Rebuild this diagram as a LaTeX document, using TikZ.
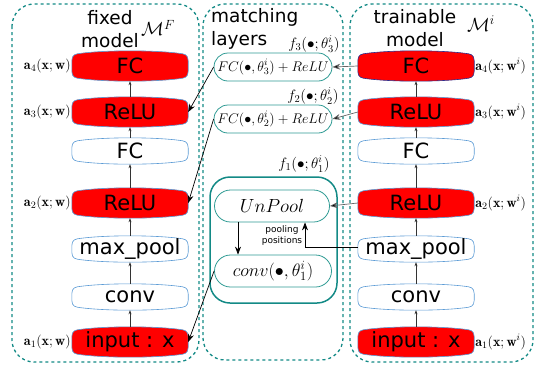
\RequirePackage{fix-cm}
\documentclass[tikz,border=0pt]{standalone}
\usepackage{fontspec}
\setsansfont{DejaVu Sans}
\usetikzlibrary{arrows.meta,backgrounds}
\definecolor{boxblue}{HTML}{5B9BD5}
\definecolor{navyb}{HTML}{2B2F8F}
\definecolor{tealc}{HTML}{138A86}
\definecolor{tealell}{HTML}{2E9A93}
\newcommand{\brl}[3]{\draw[line width=0.6pt, draw=#3, fill=#2]
  ([yshift=-10pt]#1.north west)
  .. controls ([yshift=-3.5pt]#1.north west) and ([xshift=4pt,yshift=-3.1pt]#1.north west) .. ([xshift=9pt,yshift=-2.5pt]#1.north west)
  .. controls ([xshift=35pt,yshift=0.8pt]#1.north west) and ([xshift=-35pt,yshift=0.8pt]#1.north east) .. ([xshift=-9pt,yshift=-2.5pt]#1.north east)
  .. controls ([xshift=-4pt,yshift=-3.1pt]#1.north east) and ([yshift=-3.5pt]#1.north east) .. ([yshift=-10pt]#1.north east)
  -- ([yshift=10pt]#1.south east)
  .. controls ([yshift=3.5pt]#1.south east) and ([xshift=-4pt,yshift=3.1pt]#1.south east) .. ([xshift=-9pt,yshift=2.5pt]#1.south east)
  .. controls ([xshift=-35pt,yshift=-0.8pt]#1.south east) and ([xshift=35pt,yshift=-0.8pt]#1.south west) .. ([xshift=9pt,yshift=2.5pt]#1.south west)
  .. controls ([xshift=4pt,yshift=3.1pt]#1.south west) and ([yshift=3.5pt]#1.south west) .. ([yshift=10pt]#1.south west)
  -- cycle;}
\begin{document}
\begin{tikzpicture}[x=1pt,y=-1pt,
  layer/.style={minimum width=116pt, inner sep=0pt, font=\sffamily\fontsize{21}{21}\selectfont},
  redbox/.style={layer, minimum height=30pt},
  whitebox/.style={layer, minimum height=26pt},
  dbox/.style={draw=tealc, dashed, line width=1.3pt, rounded corners=22pt},
  mell/.style={draw=tealell, line width=0.8pt, rounded corners=14pt, minimum height=28pt, inner sep=0pt},
  lab/.style={font=\fontsize{14}{14}\selectfont, inner sep=1pt},
  flab/.style={font=\fontsize{15}{15}\selectfont, inner sep=0pt},
  title/.style={font=\sffamily\fontsize{18.5}{22.5}\selectfont, inner sep=0pt, align=center},
  up/.style={-{Stealth[length=4pt,width=3pt]}, line width=0.5pt, draw=black!80},
  big/.style={-{Stealth[length=8pt,width=6pt]}, line width=0.7pt},
  bigg/.style={-{Stealth[length=8pt,width=6pt,fill=black]}, line width=0.7pt, draw=black!60},
]
\useasboundingbox (0,0) rectangle (535,368);
% dashed containers
\draw[dbox] (12,4) rectangle (199,362);
\draw[dbox] (203,4) rectangle (343,360);
\draw[dbox] (350,4) rectangle (533,362);
% titles
\node[title] (tF) at (110,29) {fixed\\model};
\node[font=\fontsize{19}{19}\selectfont, inner sep=0pt] (mF) at (158,28) {$\mathcal{M}^F$};
\node[title, align=left, anchor=west] (tM) at (211,29) {matching\\layers};
\node[title] (tT) at (415,28) {trainable\\model};
\node[font=\fontsize{19}{19}\selectfont, inner sep=0pt] (mT) at (481,24) {$\mathcal{M}^i$};
% left column
\node[redbox] (L4) at (130,66) {FC};
\node[redbox] (L3) at (130,112) {ReLU};
\node[whitebox] (LF) at (130,151) {FC};
\node[redbox] (L2) at (130,203) {ReLU};
\node[whitebox] (LM) at (130,249) {max\_pool};
\node[whitebox] (LC) at (130,297) {conv};
\node[redbox] (L1) at (130,342) {input : x};
% right column
\node[redbox] (R4) at (416,66) {FC};
\node[redbox] (R3) at (416,112) {ReLU};
\node[whitebox] (RF) at (416,151) {FC};
\node[redbox] (R2) at (416,203) {ReLU};
\node[whitebox] (RM) at (416,249) {max\_pool};
\node[whitebox] (RC) at (416,297) {conv};
\node[redbox] (R1) at (416,342) {input : x};
\begin{scope}[on background layer]
\foreach \n/\f/\d in {L4/red/boxblue,L3/red/boxblue,LF/white/boxblue,L2/red/boxblue,LM/white/boxblue,LC/white/boxblue,L1/red/boxblue,R4/red/navyb,R3/red/boxblue,RF/white/boxblue,R2/red/boxblue,RM/white/boxblue,RC/white/boxblue,R1/red/boxblue}
  {\brl{\n}{\f}{\d}}
\end{scope}
% vertical arrows
\foreach \a/\b in {L1/LC,LC/LM,LM/L2,L2/LF,LF/L3,L3/L4,R1/RC,RC/RM,RM/R2,R2/RF,RF/R3,R3/R4}
  \draw[up] (\a.north) -- (\b.south);
% side labels
\node[lab, anchor=east] (a4) at (L4.west) {$\mathbf{a}_4(\mathbf{x};\mathbf{w})$};
\node[lab, anchor=east] (a3) at (L3.west) {$\mathbf{a}_3(\mathbf{x};\mathbf{w})$};
\node[lab, anchor=east] (a2) at (L2.west) {$\mathbf{a}_2(\mathbf{x};\mathbf{w})$};
\node[lab, anchor=east] (a1) at (L1.west) {$\mathbf{a}_1(\mathbf{x};\mathbf{w})$};
\node[lab, anchor=west] (b4) at (R4.east) {$\mathbf{a}_4(\mathbf{x};\mathbf{w}^i)$};
\node[lab, anchor=west] (b3) at (R3.east) {$\mathbf{a}_3(\mathbf{x};\mathbf{w}^i)$};
\node[lab, anchor=west] (b2) at (R2.east) {$\mathbf{a}_2(\mathbf{x};\mathbf{w}^i)$};
\node[lab, anchor=west] (b1) at (R1.east) {$\mathbf{a}_1(\mathbf{x};\mathbf{w}^i)$};
% matching layers
\node[mell, minimum width=118pt, font=\fontsize{14}{14}\selectfont] (F3) at (273,67) {$FC(\bullet,\theta_3^i)+ReLU$};
\node[mell, minimum width=118pt, font=\fontsize{14}{14}\selectfont] (F2) at (273,119) {$FC(\bullet,\theta_2^i)+ReLU$};
\node[flab] (f3) at (314,44) {$f_3(\bullet;\theta_3^i)$};
\node[flab] (f2) at (313,96) {$f_2(\bullet;\theta_2^i)$};
\node[flab] (f1) at (304,164) {$f_1(\bullet;\theta_1^i)$};
\draw[draw=tealc, line width=1.5pt, rounded corners=20pt] (210,177) rectangle (337,303);
\node[mell, minimum width=115pt, minimum height=32pt, rounded corners=16pt, font=\fontsize{19}{19}\selectfont] (UP) at (272,206) {$UnPool$};
\node[mell, minimum width=117pt, minimum height=32pt, rounded corners=16pt, font=\fontsize{18}{18}\selectfont] (CV) at (273,271) {$conv(\bullet,\theta_1^i)$};
\node[font=\sffamily\fontsize{9}{11}\selectfont, align=center, inner sep=0pt] (pp) at (282,236) {pooling\\positions};
% connectors
\coordinate (pc) at (305,247);
\coordinate (ux) at (238,0);
\draw[bigg] (R4.west) -- (F3.east);
\draw[bigg] (R3.west) -- (F2.east);
\draw[bigg] (R2.west) -- (UP.east);
\draw[big] (RM.west |- pc) -- (pc) -- (pc |- UP.south);
\draw[big] (UP.south -| ux) -- (CV.north -| ux);
\draw[big] (F3.west) -- (L3.east);
\draw[big] (F2.west) -- (L2.east);
\draw[big] (CV.west) -- (L1.east);
\end{tikzpicture}
\end{document}
